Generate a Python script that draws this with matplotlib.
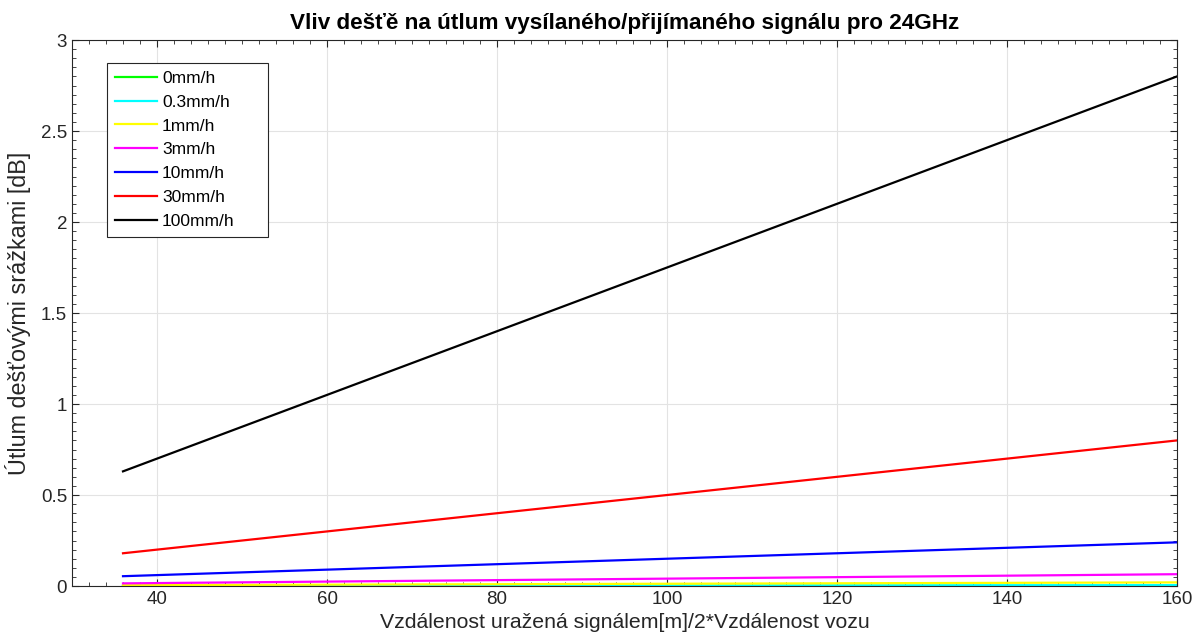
import matplotlib
matplotlib.use("Agg")
import matplotlib.pyplot as plt
from matplotlib.ticker import MultipleLocator, FormatStrFormatter

plt.rcParams['font.family'] = ['Liberation Sans', 'DejaVu Sans']

# distance range of the calculation [m]
DIST = [36, 160]

# rain intensities and attenuation at start / end of range [dB]
LABELS = ["0mm/h", "0.3mm/h", "1mm/h", "3mm/h", "10mm/h", "30mm/h", "100mm/h"]
ATT_START = [0.0, 0.0011, 0.0045, 0.0146, 0.054, 0.18, 0.63]
ATT_END = [0.0, 0.005, 0.02, 0.065, 0.24, 0.80, 2.80]
COLORS = ["#00ff00", "#00ffff", "#ffff00", "#ff00ff", "#0000ff", "#ff0000", "#000000"]

fig = plt.figure(figsize=(11.94, 6.39), dpi=100)
ax = fig.add_axes([0.0603, 0.0829, 0.9255, 0.8545])

for lab, a0, a1, col in zip(LABELS, ATT_START, ATT_END, COLORS):
    ax.plot(DIST, [a0, a1], color=col, linewidth=1.6, label=lab)

ax.set_xlim(30, 160)
ax.set_ylim(0, 3)
ax.xaxis.set_major_locator(MultipleLocator(20))
ax.xaxis.set_minor_locator(MultipleLocator(2))
ax.yaxis.set_major_locator(MultipleLocator(0.5))
ax.yaxis.set_minor_locator(MultipleLocator(0.05))
ax.yaxis.set_major_formatter(FormatStrFormatter("%g"))
ax.tick_params(which="both", direction="in", top=True, right=True,
               labelsize=13.5, color="#262626", labelcolor="#262626")
ax.tick_params(which="major", length=5)
ax.tick_params(which="minor", length=3)
ax.grid(True, which="major", color="#e3e3e3", linewidth=0.8)
ax.set_axisbelow(True)
for s in ax.spines.values():
    s.set_color("#262626")

ax.set_title("Vliv dešťě na útlum vysílaného/přijímaného signálu pro 24GHz",
             fontsize=16.2, fontweight="bold", pad=8)
ax.set_xlabel("Vzdálenost uražená signálem[m]/2*Vzdálenost vozu", fontsize=15.3,
              color="#262626", labelpad=4)
ax.set_ylabel("Útlum dešťovými srážkami [dB]", fontsize=16.8, color="#262626",
              labelpad=7)

# legend box a bit wider than its text, like the original
leg = ax.legend(loc="upper left", bbox_to_anchor=(0.032, 0.6, 0.1457, 0.358),
                mode="expand", fontsize=12.5,
                fancybox=False, framealpha=1, edgecolor="#262626",
                handlelength=2.4, handletextpad=0.3, labelspacing=0.5,
                borderpad=0.45, borderaxespad=0)
leg.get_frame().set_linewidth(0.8)

fig.savefig("out.png", dpi=100)
